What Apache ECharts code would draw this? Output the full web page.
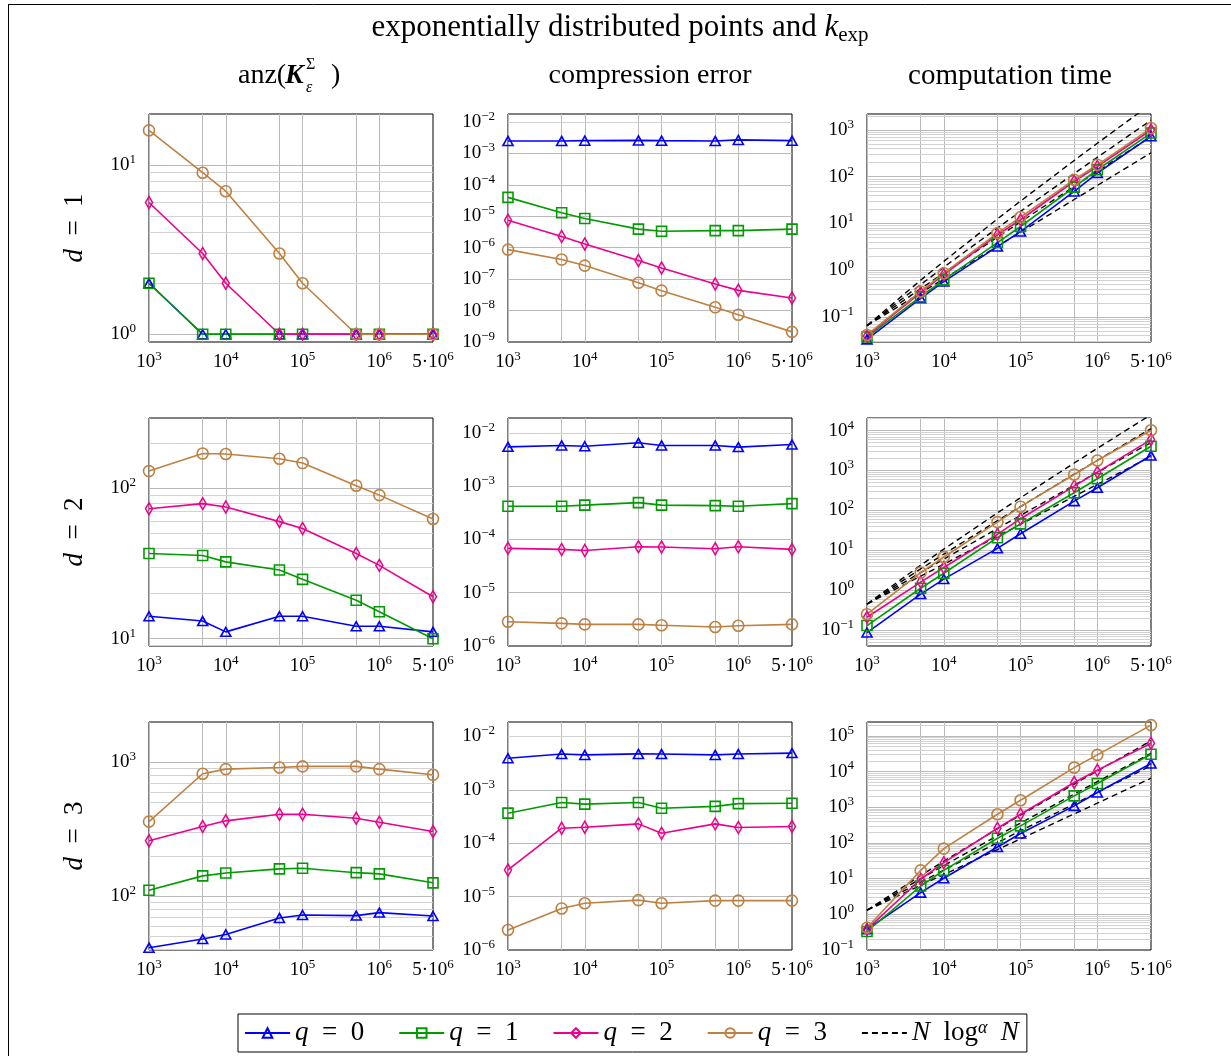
<!DOCTYPE html>
<html>
<head>
<meta charset="utf-8">
<script src="https://cdn.jsdelivr.net/npm/echarts@6/dist/echarts.min.js"></script>
<style>
  html, body { margin: 0; padding: 0; background: #fff; }
  #chart { width: 1231px; height: 1056px; }
</style>
</head>
<body>
<div id="chart"></div>
<script>
// problem sizes N (x values of every panel)
var nValues = [1e3, 5e3, 1e4, 5e4, 1e5, 5e5, 1e6, 5e6];
var seriesNames = ['q = 0', 'q = 1', 'q = 2', 'q = 3'];
var refName = 'N log^a N';
var xMinorGrid = [5e3, 5e4, 5e5];

// anz(K), one row per q
var anzD1 = [
  [2, 1, 1, 1, 1, 1, 1, 1],
  [2, 1, 1, 1, 1, 1, 1, 1],
  [6, 3, 2, 1, 1, 1, 1, 1],
  [16, 9, 7, 3, 2, 1, 1, 1]
];
var anzD2 = [
  [14.1, 13.1, 11.1, 14.1, 14.1, 12.1, 12.1, 11.1],
  [36.8, 35.7, 32.4, 28.6, 24.8, 18, 15.1, 10],
  [73, 79, 75, 60, 54, 36.8, 30.7, 19],
  [130, 170, 169, 157, 147, 104, 90, 62.5]
];
var anzD3 = [
  [41.4, 48, 52, 69, 72.6, 71.8, 75.6, 71.3],
  [111, 142, 149, 160, 162, 150, 147, 126],
  [259, 331, 365, 409, 409, 382, 356, 304],
  [360, 819, 887, 912, 929, 929, 887, 804]
];

// compression error
var errD1 = [
  [2.5e-3, 2.5e-3, 2.55e-3, 2.6e-3, 2.55e-3, 2.5e-3, 2.7e-3, 2.55e-3],
  [4.0e-5, 1.3e-5, 8.5e-6, 3.9e-6, 3.35e-6, 3.5e-6, 3.5e-6, 3.9e-6],
  [7.5e-6, 2.26e-6, 1.32e-6, 3.9e-7, 2.27e-7, 7.0e-8, 4.4e-8, 2.5e-8],
  [8.7e-7, 4.2e-7, 2.7e-7, 7.7e-8, 4.3e-8, 1.27e-8, 7.4e-9, 2.1e-9]
];
var errD2 = [
  [5.46e-3, 5.8e-3, 5.6e-3, 6.5e-3, 5.8e-3, 5.8e-3, 5.4e-3, 6.05e-3],
  [4.2e-4, 4.2e-4, 4.4e-4, 4.9e-4, 4.4e-4, 4.3e-4, 4.2e-4, 4.7e-4],
  [6.8e-5, 6.5e-5, 6.2e-5, 7.3e-5, 7.2e-5, 6.7e-5, 7.3e-5, 6.5e-5],
  [2.86e-6, 2.66e-6, 2.55e-6, 2.55e-6, 2.45e-6, 2.27e-6, 2.4e-6, 2.55e-6]
];
var errD3 = [
  [3.9e-3, 4.67e-3, 4.5e-3, 4.7e-3, 4.67e-3, 4.5e-3, 4.67e-3, 4.87e-3],
  [3.65e-4, 5.8e-4, 5.4e-4, 5.8e-4, 4.5e-4, 4.9e-4, 5.5e-4, 5.6e-4],
  [3.16e-5, 1.91e-4, 1.99e-4, 2.3e-4, 1.54e-4, 2.3e-4, 1.97e-4, 2.05e-4],
  [2.37e-6, 6.0e-6, 7.5e-6, 8.6e-6, 7.5e-6, 8.4e-6, 8.4e-6, 8.4e-6]
];

// computation time
var timeD1 = [
  [0.033, 0.25, 0.57, 3.2, 6.7, 48.5, 120, 731],
  [0.037, 0.27, 0.62, 3.9, 8.6, 60, 141, 860],
  [0.039, 0.33, 0.8, 5.7, 12, 80, 165, 1000],
  [0.041, 0.35, 0.86, 6.2, 13.7, 86, 180, 1100]
];
var timeD2 = [
  [0.087, 0.8, 1.9, 11.2, 26, 171, 369, 2370],
  [0.13, 1.12, 2.66, 20.7, 46, 277, 620, 4060],
  [0.21, 1.6, 3.7, 25, 62, 406, 908, 5960],
  [0.25, 2.77, 6.8, 51, 124, 794, 1780, 10200]
];
var timeD3 = [
  [0.38, 4.05, 10.2, 77, 183, 1090, 2580, 16700],
  [0.33, 6.2, 17, 135, 300, 2080, 4610, 30600],
  [0.38, 9.6, 28, 258, 637, 4920, 10900, 62300],
  [0.42, 17, 69, 637, 1570, 12900, 29300, 200000]
];

// dashed N log^alpha N guides, alpha = 0..3
var refD1 = [
  [0.065, 0.325, 0.65, 3.25, 6.5, 32.5, 65, 325],
  [0.065, 0.40, 0.87, 5.1, 10.8, 62, 130, 726],
  [0.065, 0.49, 1.16, 8.0, 18.1, 117, 260, 1620],
  [0.065, 0.61, 1.54, 12.5, 30.1, 223, 520, 3620]
];
var refD2 = [
  [0.45, 2.25, 4.5, 22.5, 45, 225, 450, 2250],
  [0.45, 2.77, 6.0, 35.2, 75, 428, 900, 5030],
  [0.45, 3.42, 8.0, 55.2, 125, 812, 1800, 11200],
  [0.45, 4.22, 10.7, 86.5, 208, 1540, 3600, 25100]
];
var refD3 = [
  [1.3, 6.5, 13, 65, 130, 650, 1300, 6500],
  [1.3, 8.0, 17.3, 102, 217, 1235, 2600, 14500],
  [1.3, 9.9, 23.1, 159, 361, 2350, 5200, 32400],
  [1.3, 12.2, 30.8, 249, 602, 4460, 10400, 72300]
];

;(function () {
  'use strict';

  var FONT = '"Liberation Serif", "DejaVu Serif", serif';
  var COLORS = ['#0000ff', '#009b00', '#ec008c', '#bf8040'];
  var SYMBOLS = ['triangle', 'rect', 'diamond', 'circle'];
  var SYMBOL_SIZES = [[10, 9], [10, 10], [7, 12], 11];
  var LINE_W = 1.6;
  var MAJOR = '#bababa';
  var MINOR = '#d2d2d2';
  var COL_LEFT = [149, 508, 867];
  var ROW_TOP = [114, 418, 722];
  var PANEL_W = 284;
  var PANEL_H = 228;

  var panels = [
    { data: anzD1, yMin: 0.9, yMax: 20 },
    { data: errD1, yMin: 1e-9, yMax: 1.8e-2 },
    { data: timeD1, ref: refD1, yMin: 0.029, yMax: 2200 },
    { data: anzD2, yMin: 8.94, yMax: 293 },
    { data: errD2, yMin: 1e-6, yMax: 1.9e-2 },
    { data: timeD2, ref: refD2, yMin: 0.04, yMax: 20700 },
    { data: anzD3, yMin: 39.8, yMax: 1990 },
    { data: errD3, yMin: 1e-6, yMax: 1.86e-2 },
    { data: timeD3, ref: refD3, yMin: 0.1, yMax: 2.44e5 }
  ];

  var LABEL_RICH = {
    b: { fontFamily: FONT, fontSize: 19, lineHeight: 24, color: '#000' },
    s: { fontFamily: FONT, fontSize: 13, lineHeight: 15, verticalAlign: 'top', color: '#000' }
  };

  var legendText = {};
  legendText['q = 0'] = '{i|q}\u2002=\u20020';
  legendText['q = 1'] = '{i|q}\u2002=\u20021';
  legendText['q = 2'] = '{i|q}\u2002=\u20022';
  legendText['q = 3'] = '{i|q}\u2002=\u20023';
  legendText[refName] = '{i|N}\u2002log{s|\u03b1}\u2002{i|N}';

  function supText(k) {
    return k < 0 ? '\u2212' + (-k) : String(k);
  }

  function powLabel(v) {
    var e = Math.log10(v);
    var k = Math.round(e);
    if (Math.abs(e - k) < 1e-6) {
      return '{b|10}{s|' + supText(k) + '}';
    }
    if (Math.abs(v / 5e6 - 1) < 1e-6) {
      return '{b|5\u00b710}{s|6}';
    }
    return '';
  }

  function minorValues(min, max) {
    var out = [];
    for (var k = Math.floor(Math.log10(min)); k <= Math.ceil(Math.log10(max)); k++) {
      for (var m = 2; m <= 9; m++) {
        var v = m * Math.pow(10, k);
        if (v > min && v < max) out.push(v);
      }
    }
    return out;
  }

  function axis(i, dim, min, max) {
    return {
      type: 'log',
      logBase: 10,
      gridIndex: i,
      min: min,
      max: max,
      axisLine: { show: false },
      axisTick: { show: false },
      axisLabel: {
        interval: 0,
        hideOverlap: false,
        margin: dim === 'x' ? 8 : 13,
        color: '#000',
        fontFamily: FONT,
        fontSize: 19,
        formatter: powLabel,
        rich: LABEL_RICH
      },
      splitLine: {
        show: true,
        showMinLine: false,
        showMaxLine: false,
        lineStyle: { color: MAJOR, width: 1 }
      }
    };
  }

  function gridLines(p) {
    var lines = xMinorGrid.map(function (v) {
      return { xAxis: v, lineStyle: { color: MAJOR } };
    }).concat(minorValues(p.yMin, p.yMax).map(function (v) {
      return { yAxis: v };
    }));
    return {
      silent: true,
      animation: false,
      symbol: ['none', 'none'],
      z: 1,
      label: { show: false },
      emphasis: { disabled: true },
      lineStyle: { color: MINOR, width: 1, type: 'solid' },
      data: lines
    };
  }

  function points(vals) {
    return vals.map(function (v, j) { return [nValues[j], v]; });
  }

  function dataSeries(i, q, vals, markLine) {
    var s = {
      type: 'line',
      name: seriesNames[q],
      xAxisIndex: i,
      yAxisIndex: i,
      data: points(vals),
      symbol: SYMBOLS[q],
      symbolSize: SYMBOL_SIZES[q],
      showAllSymbol: true,
      clip: false,
      z: 3,
      lineStyle: { color: COLORS[q], width: LINE_W },
      itemStyle: { color: 'transparent', borderColor: COLORS[q], borderWidth: LINE_W },
      emphasis: { disabled: true }
    };
    if (markLine) s.markLine = markLine;
    return s;
  }

  function refSeries(i, vals) {
    return {
      type: 'line',
      name: refName,
      xAxisIndex: i,
      yAxisIndex: i,
      data: points(vals),
      symbol: 'none',
      clip: true,
      z: 2,
      lineStyle: { color: '#000', width: 1.4, type: [6, 4] },
      itemStyle: { color: '#000' },
      emphasis: { disabled: true }
    };
  }

  function text(x, y, str, size, extra) {
    var el = {
      type: 'text',
      x: x,
      y: y,
      silent: true,
      style: {
        text: str,
        fontFamily: FONT,
        fontSize: size,
        fill: '#000',
        align: 'center',
        verticalAlign: 'middle'
      }
    };
    if (extra) {
      Object.keys(extra).forEach(function (k) {
        if (k === 'rotation') el.rotation = extra[k];
        else el.style[k] = extra[k];
      });
    }
    return el;
  }

  function line(x1, y1, x2, y2) {
    return {
      type: 'line',
      silent: true,
      shape: { x1: x1, y1: y1, x2: x2, y2: y2 },
      style: { stroke: '#000', lineWidth: 1 }
    };
  }

  var grids = [];
  var xAxes = [];
  var yAxes = [];
  var series = [];

  panels.forEach(function (p, i) {
    var r = Math.floor(i / 3);
    var c = i % 3;
    grids.push({
      left: COL_LEFT[c],
      top: ROW_TOP[r],
      width: PANEL_W,
      height: PANEL_H,
      show: true,
      borderColor: '#000',
      borderWidth: 1
    });
    xAxes.push(axis(i, 'x', nValues[0], nValues[nValues.length - 1]));
    yAxes.push(axis(i, 'y', p.yMin, p.yMax));
    if (p.ref) {
      p.ref.forEach(function (vals) { series.push(refSeries(i, vals)); });
    }
    p.data.forEach(function (vals, q) {
      series.push(dataSeries(i, q, vals, q === 0 ? gridLines(p) : null));
    });
  });

  var rowRich = {
    i: { fontStyle: 'italic', fontFamily: FONT, fontSize: 27 }
  };

  var graphics = [
    line(8, 4.5, 1231, 4.5),
    line(8.5, 4, 8.5, 1056),
    text(620, 28, '{t|exponentially distributed points and }{k|k}{sub|exp}', 31, {
      rich: {
        t: { fontFamily: FONT, fontSize: 31, lineHeight: 36 },
        k: { fontFamily: FONT, fontSize: 31, lineHeight: 36, fontStyle: 'italic' },
        sub: { fontFamily: FONT, fontSize: 21, lineHeight: 24, verticalAlign: 'bottom' }
      }
    }),
    text(238, 76, 'anz(', 28, { align: 'left' }),
    text(285, 76, 'K', 28, { align: 'left', fontWeight: 'bold', fontStyle: 'italic' }),
    text(306, 65, '\u03a3', 16, { align: 'left' }),
    text(306, 88, '\u03b5', 16, { align: 'left', fontStyle: 'italic' }),
    text(331, 76, ')', 28, { align: 'left' }),
    text(650, 76, 'compression error', 28),
    text(1010, 76, 'computation time', 29)
  ];
  ['1', '2', '3'].forEach(function (d, r) {
    graphics.push(text(75, ROW_TOP[r] + PANEL_H / 2, '{i|d}\u2002=\u2002' + d, 27, {
      rich: rowRich,
      rotation: Math.PI / 2
    }));
  });

  var legendData = seriesNames.slice();
  legendData.push({ name: refName, itemStyle: { opacity: 0 } });

  var chart = echarts.init(document.getElementById('chart'));
  chart.setOption({
    animation: false,
    backgroundColor: '#fff',
    grid: grids,
    xAxis: xAxes,
    yAxis: yAxes,
    series: series,
    graphic: graphics,
    legend: {
      left: 238,
      top: 1014,
      data: legendData,
      selectedMode: false,
      itemWidth: 45,
      itemHeight: 12,
      itemGap: 34,
      padding: [5, 8, 5, 6],
      borderColor: '#000',
      borderWidth: 1,
      borderRadius: 0,
      formatter: function (name) { return legendText[name]; },
      textStyle: {
        color: '#000',
        fontFamily: FONT,
        fontSize: 27,
        lineHeight: 28,
        rich: {
          i: { fontStyle: 'italic', fontFamily: FONT, fontSize: 27, lineHeight: 28 },
          s: { fontStyle: 'italic', fontFamily: FONT, fontSize: 18, lineHeight: 16, verticalAlign: 'top' }
        }
      }
    }
  });
})();
</script>
</body>
</html>
